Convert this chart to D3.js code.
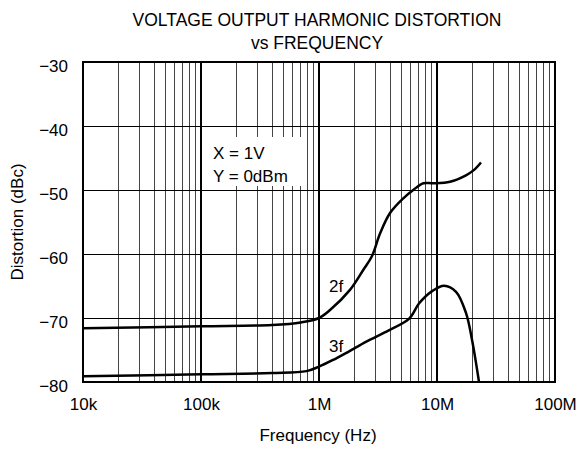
<!DOCTYPE html>
<html><head><meta charset="utf-8">
<script src="https://cdn.jsdelivr.net/npm/d3@7"></script>
<style>body{margin:0;background:#fff}svg{display:block}text{font-family:"Liberation Sans",Arial,sans-serif;fill:#000}</style>
</head><body>
<script>
// Data
const title1 = "VOLTAGE OUTPUT HARMONIC DISTORTION";
const title2 = "vs FREQUENCY";
const xLabel = "Frequency (Hz)";
const yLabel = "Distortion (dBc)";
const xTickValues = [1e4, 1e5, 1e6, 1e7, 1e8];
const xTickLabels = ["10k", "100k", "1M", "10M", "100M"];
const yTickValues = [-30, -40, -50, -60, -70, -80];
const yTickLabels = ["\u221230", "\u221240", "\u221250", "\u221260", "\u221270", "\u221280"];
const noteLines = ["X = 1V", "Y = 0dBm"];

const f2Freq = [1e4, 1e5, 4e5, 7e5, 1e6, 1.24e6, 1.83e6, 2.37e6, 2.8e6, 3.29e6, 4.0e6, 5.18e6, 6.29e6, 7.66e6, 9.31e6, 12.9e6, 17.6e6, 20.5e6, 23.6e6];
const f2Dist = [-71.6, -71.3, -71.1, -70.7, -70.0, -68.75, -65.6, -62.5, -60.4, -56.8, -53.6, -51.3, -50.0, -48.95, -48.95, -48.7, -47.7, -46.9, -45.7];
const f3Freq = [1e4, 1e5, 4e5, 7.83e5, 1e6, 1.30e6, 1.8e6, 2.52e6, 3.94e6, 5.81e6, 7.06e6, 9.09e6, 11.5e6, 14.5e6, 17.6e6, 19.8e6, 22.7e6];
const f3Dist = [-79.1, -78.8, -78.6, -78.3, -77.6, -76.6, -75.2, -73.7, -71.9, -70.1, -67.7, -65.8, -64.95, -65.9, -69.2, -73.4, -80.0];

const W = 577, H = 449;
const L = 83, R = 555, T = 62, B = 382;
const FS = 17;

const svg = d3.select("body").append("svg").attr("width", W).attr("height", H);
const x = d3.scaleLog().domain([1e4, 1e8]).range([L, R]);
const y = d3.scaleLinear().domain([-80, -30]).range([B, T]);

// minor vertical grid
const minor = [];
for (let d = 1e4; d < 1e8; d *= 10) for (let k = 2; k <= 9; k++) minor.push(d * k);
svg.append("g").selectAll("line").data(minor).join("line")
  .attr("x1", d => x(d)).attr("x2", d => x(d)).attr("y1", T).attr("y2", B)
  .attr("stroke", "#444").attr("stroke-width", 1).attr("shape-rendering", "crispEdges");
// horizontal grid
svg.append("g").selectAll("line").data(yTickValues).join("line")
  .attr("x1", L).attr("x2", R).attr("y1", d => y(d)).attr("y2", d => y(d))
  .attr("stroke", "#000").attr("stroke-width", 1).attr("shape-rendering", "crispEdges");
// major vertical grid
svg.append("g").selectAll("line").data(xTickValues).join("line")
  .attr("x1", d => x(d)).attr("x2", d => x(d)).attr("y1", T).attr("y2", B)
  .attr("stroke", "#000").attr("stroke-width", 2);

// note box
svg.append("rect").attr("x", 203).attr("y", 137).attr("width", 100).attr("height", 49).attr("fill", "#fff");
svg.append("g").selectAll("text").data(noteLines).join("text")
  .attr("x", 213).attr("y", (d, i) => 159 + i * 23).attr("font-size", FS).text(d => d);

// curves
const line = d3.line().x(d => x(d[0])).y(d => y(d[1])).curve(d3.curveCatmullRom.alpha(0.5));
svg.append("path").datum(f2Freq.map((f, i) => [f, f2Dist[i]])).attr("d", line)
  .attr("fill", "none").attr("stroke", "#000").attr("stroke-width", 2.5);
svg.append("path").datum(f3Freq.map((f, i) => [f, f3Dist[i]])).attr("d", line)
  .attr("fill", "none").attr("stroke", "#000").attr("stroke-width", 2.5);
svg.append("text").attr("x", 329).attr("y", 292).attr("font-size", FS).text("2f");
svg.append("text").attr("x", 329).attr("y", 352).attr("font-size", FS).text("3f");

// frame
svg.append("rect").attr("x", L).attr("y", T).attr("width", R - L).attr("height", B - T)
  .attr("fill", "none").attr("stroke", "#000").attr("stroke-width", 2);

// axes (labels only)
const xAxis = d3.axisBottom(x).tickValues(xTickValues).tickSize(0).tickPadding(16)
  .tickFormat((d, i) => xTickLabels[i]);
const gx = svg.append("g").attr("transform", `translate(0,${B})`).call(xAxis);
gx.select(".domain").remove();
gx.selectAll("text").attr("font-size", FS).attr("font-family", "Liberation Sans, Arial, sans-serif");

const yAxis = d3.axisLeft(y).tickValues(yTickValues).tickSize(0).tickPadding(15)
  .tickFormat((d, i) => yTickLabels[i]);
const gy = svg.append("g").attr("transform", `translate(${L},0)`).call(yAxis);
gy.select(".domain").remove();
gy.selectAll("text").attr("font-size", FS).attr("dy", "0.56em").attr("font-family", "Liberation Sans, Arial, sans-serif");

// titles
svg.append("text").attr("x", 317).attr("y", 26).attr("text-anchor", "middle").attr("font-size", 17.5).text(title1);
svg.append("text").attr("x", 317).attr("y", 49).attr("text-anchor", "middle").attr("font-size", 17.5).text(title2);
svg.append("text").attr("x", 318).attr("y", 441).attr("text-anchor", "middle").attr("font-size", FS).text(xLabel);
svg.append("text").attr("transform", `translate(23,${(T + B) / 2}) rotate(-90)`).attr("text-anchor", "middle").attr("font-size", FS).text(yLabel);
</script>
</body></html>
